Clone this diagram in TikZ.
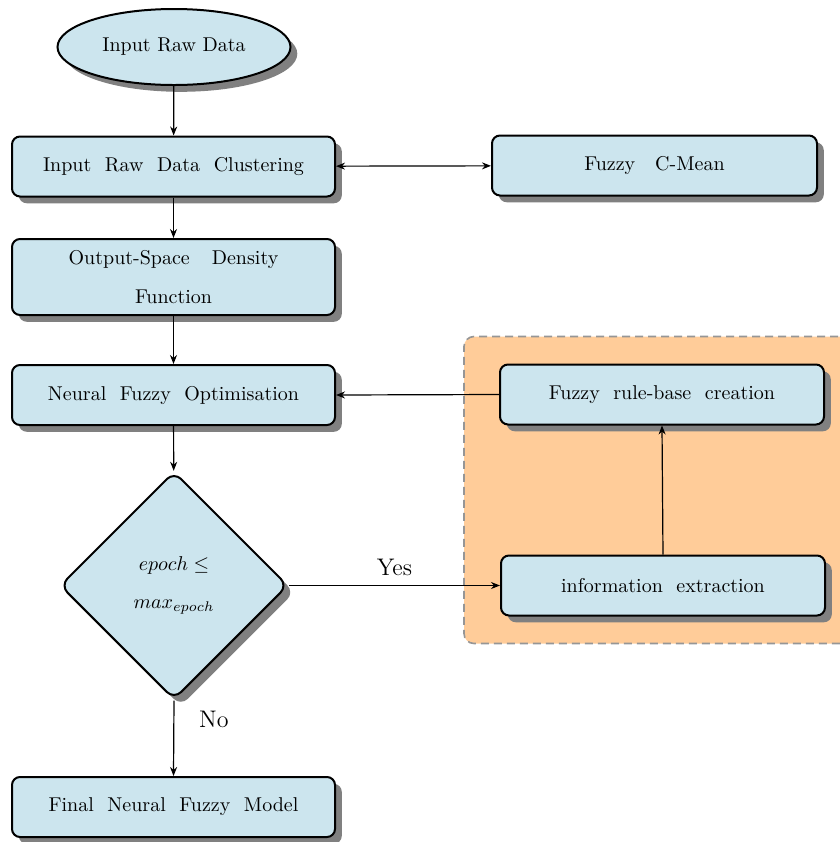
\documentclass[tikz,border=0pt]{standalone}
\usetikzlibrary{shapes.geometric,shadows,arrows.meta,fit,backgrounds}
\definecolor{boxblue}{RGB}{204,229,238}
\definecolor{shadowgray}{RGB}{128,128,128}
\definecolor{dashgray}{RGB}{150,150,150}
\newcommand\widespaces{\spaceskip=.68em plus .1em\relax}
\begin{document}
\begin{tikzpicture}[x=0.5pt,y=-0.5pt,
  base/.style={draw=black, line width=1pt, fill=boxblue,
    drop shadow={shadow xshift=3.4pt, shadow yshift=-3.4pt, fill=shadowgray, opacity=1},
    font=\fontsize{10}{19.5}\selectfont\widespaces, align=center},
  procbox/.style={base, rectangle, rounded corners=4pt, minimum width=161.5pt, minimum height=30pt},
  startnode/.style={base, ellipse, minimum width=116.5pt, minimum height=38pt, font=\fontsize{10}{12}\selectfont},
  decision/.style={base, diamond, aspect=1, rounded corners=5pt, minimum width=114pt, minimum height=114pt, inner sep=0pt, font=\fontsize{10}{19}\selectfont},
  conn/.style={line width=0.6pt, -{Stealth[length=4.5pt,width=3.5pt]}},
  lbl/.style={font=\fontsize{12}{14}\selectfont},
  grpbox/.style={fill=orange!40, draw=dashgray, line width=0.8pt, dash pattern=on 4pt off 2.5pt, rounded corners=5pt}]
\useasboundingbox (0,0) rectangle (840,842);

\node[startnode] (start) at (174,47) {Input Raw Data};
\node[procbox] (clust) at (173.5,166.5) {Input Raw Data Clustering};
\node[procbox, minimum width=162.5pt] (fcm) at (654.5,165.5) {Fuzzy\hspace{1em}C-Mean};
\node[procbox, minimum height=38pt] (osd) at (173.5,277) {Output-Space\hspace{1.1em}Density\\Function};
\node[procbox] (nfo) at (173.5,395) {Neural Fuzzy Optimisation};
\node[decision] (dec) at (174,585.5) {$epoch \leq$\\$max_{epoch}$};
\node[procbox] (final) at (173.5,807) {Final Neural Fuzzy Model};
\node[procbox, minimum width=162pt] (rule) at (662,394.5) {Fuzzy rule-base creation};
\node[procbox, minimum width=162pt] (info) at (663,585.5) {information extraction};

\begin{scope}[on background layer]
\node[grpbox, fit=(rule)(info), inner xsep=17.5pt, inner ysep=13.5pt] (grp) {};
\end{scope}

\draw[conn] (start) -- (clust);
\draw[line width=0.6pt, {Stealth[length=4.5pt,width=3.5pt]}-{Stealth[length=4.5pt,width=3.5pt]}] (clust) -- (fcm);
\draw[conn] (clust) -- (osd);
\draw[conn] (osd) -- (nfo);
\draw[conn] (nfo) -- (dec);
\draw[conn] (rule.west) -- (nfo.east);
\draw[conn] (dec.east) -- node[lbl, above=1.5pt] {Yes} (info.west);
\draw[conn] (info.north) -- (rule.south);
\draw[conn] (dec.south) -- node[lbl, pos=0.25, right=9pt] {No} (final.north);
\end{tikzpicture}
\end{document}
